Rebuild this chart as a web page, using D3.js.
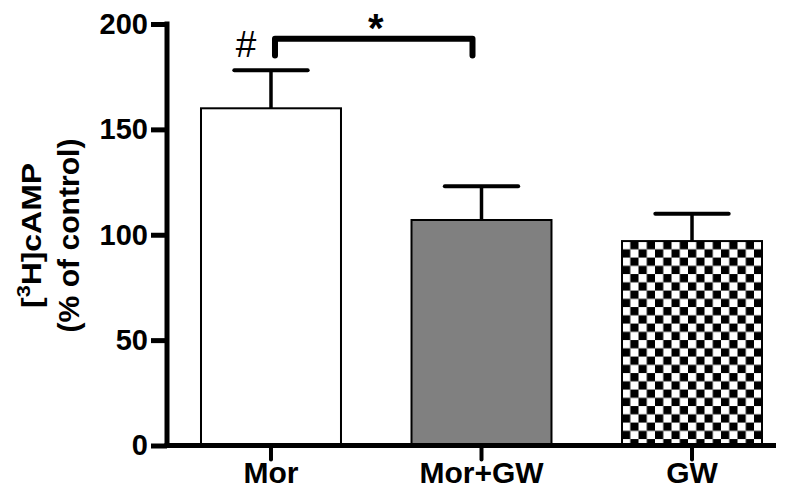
<!DOCTYPE html>
<html>
<head>
<meta charset="utf-8">
<script src="https://cdn.jsdelivr.net/npm/d3@7"></script>
<style>
  html, body { margin: 0; padding: 0; background: #fff; }
  svg { display: block; }
  text { font-family: "Liberation Sans", Arial, sans-serif; }
</style>
</head>
<body>
<svg id="chart" width="789" height="489"></svg>
<script>
// ---- data ----
const categories = ["Mor", "Mor+GW", "GW"];
const means = [160, 107, 97];
const sems = [18, 16, 13];
const yTicks = [0, 50, 100, 150, 200];
const fills = ["white", "gray", "checker"];
const bracketPair = ["Mor", "Mor+GW"];
const bracketLevels = [193, 185];   // top, drop end (data units)
const hashLevel = 184.3;
const starLevel = 191.5;

const svg = d3.select("#chart");

const y = d3.scaleLinear().domain([0, 200]).range([445.5, 24]);
const x = d3.scaleBand().domain(categories).range([167, 796])
  .paddingInner(0.335).paddingOuter(0.1615);

// checker pattern
const defs = svg.append("defs");
const sq = 8.25;
const gwIdx = 2;
const px0 = x(categories[gwIdx]), py0 = y(means[gwIdx]);
const pat = defs.append("pattern").attr("id", "checker")
  .attr("patternUnits", "userSpaceOnUse")
  .attr("width", sq * 2).attr("height", sq * 2)
  .attr("x", px0).attr("y", py0);
pat.append("rect").attr("width", sq * 2).attr("height", sq * 2).attr("fill", "#fff");
pat.append("rect").attr("x", sq).attr("y", 0).attr("width", sq).attr("height", sq).attr("fill", "#000");
pat.append("rect").attr("x", 0).attr("y", sq).attr("width", sq).attr("height", sq).attr("fill", "#000");

const fillColor = f => f === "white" ? "#ffffff" : f === "gray" ? "#808080" : "url(#checker)";

const data = categories.map((c, i) => ({ c, m: means[i], s: sems[i], f: fills[i] }));

// error bars (behind bars)
const eb = svg.append("g");
data.forEach(d => {
  const cx = x(d.c) + x.bandwidth() / 2;
  const capHalf = x.bandwidth() * 0.262;
  eb.append("line").attr("x1", cx).attr("x2", cx)
    .attr("y1", y(d.m)).attr("y2", y(d.m + d.s))
    .attr("stroke", "#000").attr("stroke-width", 3.5);
  eb.append("line").attr("x1", cx - capHalf).attr("x2", cx + capHalf)
    .attr("y1", y(d.m + d.s)).attr("y2", y(d.m + d.s))
    .attr("stroke", "#000").attr("stroke-width", 4).attr("stroke-linecap", "round");
});

// bars
svg.append("g").selectAll("rect").data(data).join("rect")
  .attr("x", d => x(d.c))
  .attr("y", d => y(d.m))
  .attr("width", x.bandwidth())
  .attr("height", d => y(0) - y(d.m))
  .attr("fill", d => fillColor(d.f))
  .attr("stroke", "#000").attr("stroke-width", 2);

// y axis
const yAxis = d3.axisLeft(y).tickValues(yTicks).tickSize(16).tickPadding(3);
const gy = svg.append("g").attr("transform", "translate(167,0)").call(yAxis);
gy.select(".domain").remove();
gy.selectAll(".tick line").attr("stroke", "#000").attr("stroke-width", 5);
gy.selectAll(".tick text").attr("font-size", 29).attr("font-weight", "bold")
  .attr("fill", "#000").attr("font-family", "Liberation Sans, Arial, sans-serif");
svg.append("line").attr("x1", 167).attr("x2", 167).attr("y1", y(200) - 2.5).attr("y2", y(0) + 2.5)
  .attr("stroke", "#000").attr("stroke-width", 5);

// x axis
const xAxis = d3.axisBottom(x).tickSize(14).tickPadding(0);
const gx = svg.append("g").attr("transform", `translate(0,${y(0)})`).call(xAxis);
gx.select(".domain").remove();
gx.selectAll(".tick line").attr("stroke", "#000").attr("stroke-width", 4).attr("stroke-linecap", "round");
gx.selectAll(".tick text").attr("font-size", 30).attr("font-weight", "bold")
  .attr("fill", "#000").attr("font-family", "Liberation Sans, Arial, sans-serif")
  .attr("dy", null).attr("y", 483 - y(0));
svg.append("line").attr("x1", 164.5).attr("x2", 776).attr("y1", y(0)).attr("y2", y(0))
  .attr("stroke", "#000").attr("stroke-width", 5);

// y title
const tg = svg.append("g").attr("transform", "translate(0,235.5) rotate(-90)");
const t1 = tg.append("text").attr("x", 0).attr("y", 41).attr("text-anchor", "middle")
  .attr("font-size", 28).attr("font-weight", "bold")
  .attr("textLength", 145).attr("lengthAdjust", "spacingAndGlyphs");
t1.append("tspan").text("[");
t1.append("tspan").attr("font-size", 19).attr("dy", -11).text("3");
t1.append("tspan").attr("dy", 11).text("H]cAMP");
tg.append("text").attr("x", 0).attr("y", 79).attr("text-anchor", "middle")
  .attr("font-size", 29).attr("font-weight", "bold")
  .attr("textLength", 194).attr("lengthAdjust", "spacingAndGlyphs")
  .text("(% of control)");

// significance bracket
const bx1 = x(bracketPair[0]) + x.bandwidth() / 2 + 4;
const bx2 = x(bracketPair[1]) + x.bandwidth() / 2 - 9;
svg.append("path")
  .attr("d", `M${bx1},${y(bracketLevels[1])}V${y(bracketLevels[0])}H${bx2}V${y(bracketLevels[1])}`)
  .attr("fill", "none").attr("stroke", "#000").attr("stroke-width", 6)
  .attr("stroke-linecap", "round").attr("stroke-linejoin", "round");
svg.append("text").attr("x", (bx1 + bx2) / 2 + 2).attr("y", y(starLevel))
  .attr("text-anchor", "middle").attr("font-size", 40).attr("font-weight", "bold").text("*");
svg.append("text").attr("x", x(categories[0]) + x.bandwidth() / 2 - 25).attr("y", y(hashLevel))
  .attr("text-anchor", "middle").attr("font-size", 37).text("#");
</script>
</body>
</html>
